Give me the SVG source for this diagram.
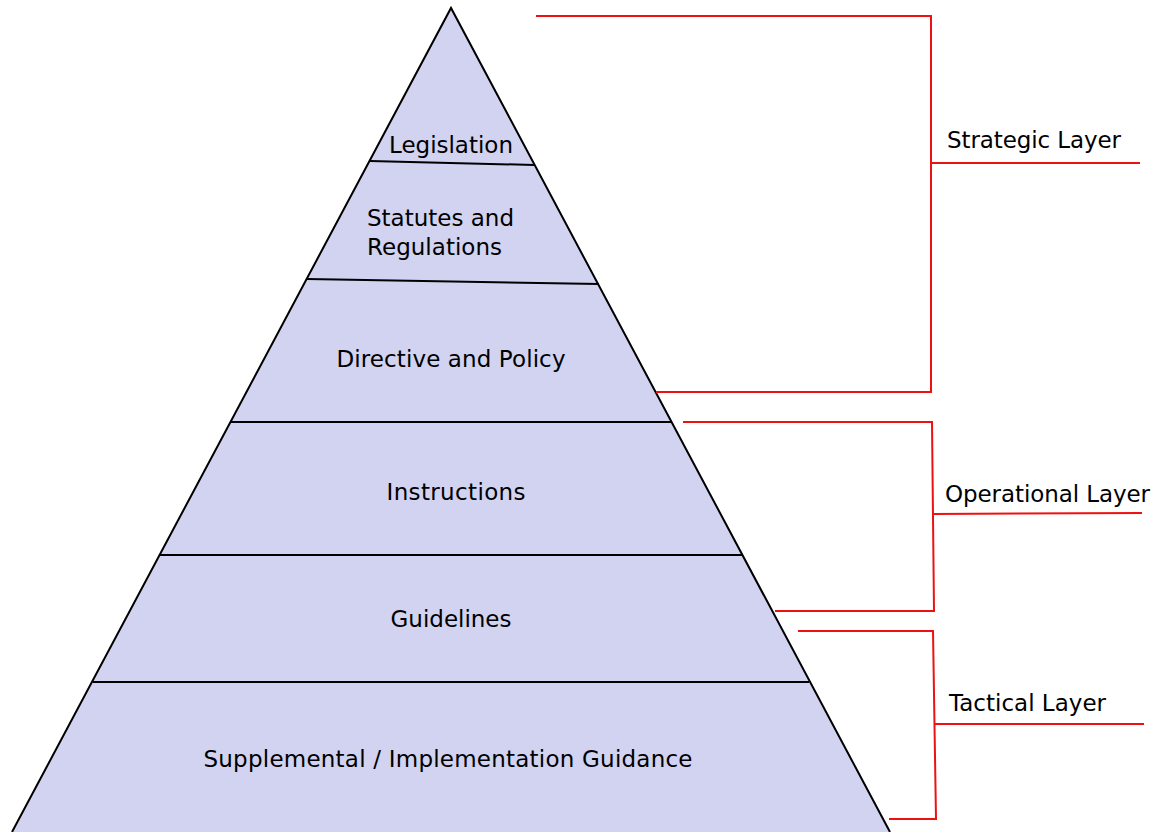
<svg xmlns="http://www.w3.org/2000/svg" width="1158" height="832" viewBox="0 0 1158 832">
  <style>
    .tier { fill: #d1d3f0; stroke: none; }
    .edge { fill: none; stroke: #000; stroke-width: 2; stroke-linejoin: miter; }
    .divider { stroke: #000; stroke-width: 2; }
    .bracket { fill: none; stroke: #ee1111; stroke-width: 2; }
    text { font-family: "DejaVu Sans", Verdana, sans-serif; font-size: 23px; fill: #000; }
    .mid { text-anchor: middle; }
  </style>
  <rect width="1158" height="832" fill="#fff"/>

  <!-- pyramid body -->
  <g id="pyramid">
    <polygon class="tier" points="451,8 12,832 890,832"/>
    <polyline class="edge" points="12,832 451,8 890,832"/>
  </g>

  <g id="legislation">
    <line class="divider" x1="370" y1="161" x2="534" y2="165"/>
    <text class="mid" x="451" y="153" textLength="124">Legislation</text>
  </g>
  <g id="statutes">
    <line class="divider" x1="307" y1="279" x2="599" y2="284"/>
    <text x="367" y="226" textLength="147">Statutes and</text>
    <text x="367" y="255" textLength="135">Regulations</text>
  </g>
  <g id="directive">
    <line class="divider" x1="231" y1="422" x2="671" y2="422"/>
    <text class="mid" x="451" y="367" textLength="229">Directive and Policy</text>
  </g>
  <g id="instructions">
    <line class="divider" x1="160" y1="555" x2="742" y2="555"/>
    <text class="mid" x="456" y="500" textLength="139">Instructions</text>
  </g>
  <g id="guidelines">
    <line class="divider" x1="93" y1="682" x2="809" y2="682"/>
    <text class="mid" x="451" y="627" textLength="121">Guidelines</text>
  </g>
  <g id="supplemental">
    <text class="mid" x="448" y="767" textLength="489">Supplemental / Implementation Guidance</text>
  </g>

  <!-- layer brackets -->
  <g id="connectors">
    <polyline class="bracket" points="536,16 931,16 931,392 656,392"/>
    <line class="bracket" x1="931" y1="163" x2="1140" y2="163"/>
    <polyline class="bracket" points="683,422 932,422 934,611 775,611"/>
    <line class="bracket" x1="933" y1="514" x2="1142" y2="513"/>
    <polyline class="bracket" points="798,631 933,631 936,819 889,819"/>
    <line class="bracket" x1="935" y1="724" x2="1144" y2="724"/>
  </g>

  <g id="strategic-layer">
    <text x="947" y="148" textLength="174">Strategic Layer</text>
  </g>
  <g id="operational-layer">
    <text x="945" y="502" textLength="205">Operational Layer</text>
  </g>
  <g id="tactical-layer">
    <text x="949" y="711" textLength="157">Tactical Layer</text>
  </g>
</svg>
